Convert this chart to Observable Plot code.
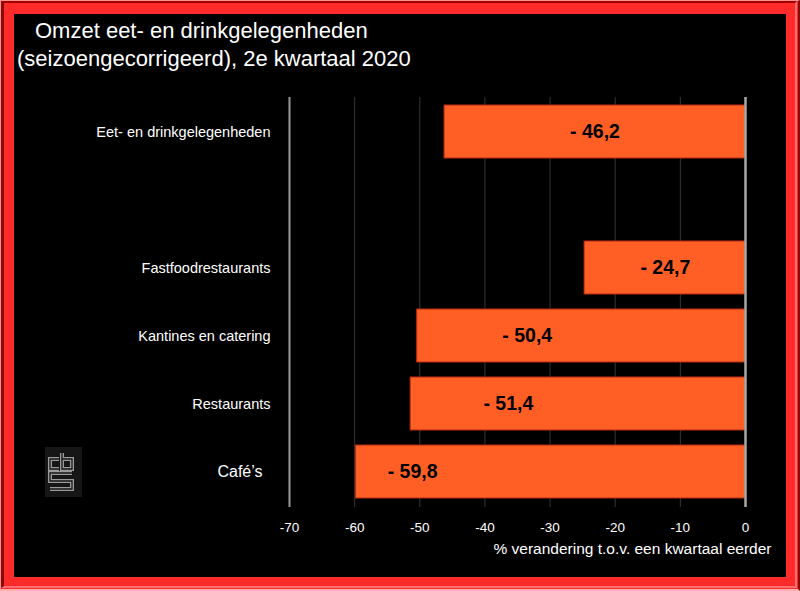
<!DOCTYPE html>
<html>
<head>
<meta charset="utf-8">
<script src="https://cdn.jsdelivr.net/npm/d3@7"></script>
<script src="https://cdn.jsdelivr.net/npm/@observablehq/plot@0.6"></script>
<style>
  html, body { margin: 0; padding: 0; background: #000; }
  #page { position: relative; width: 800px; height: 591px; overflow: hidden;
          background: #FF2B2B; font-family: "Liberation Sans", Arial, sans-serif; }
  #frameOuter { position: absolute; left: 0; top: 0; width: 800px; height: 591px; box-sizing: border-box;
          border-top: 1px solid #FF9090; border-left: 1px solid #FF9090;
          border-bottom: 2px solid #FFB0B0; border-right: 2px solid #8A0A0A; }
  #frameInner { position: absolute; left: 1px; top: 1px; width: 796px; height: 587px; box-sizing: border-box;
          border-top: 2px solid #A00000; border-left: 3px solid #8A0A0A;
          border-bottom: 2px solid #FF7070; border-right: 2px solid #FF7070; }
  #inner { position: absolute; left: 14px; top: 14px; width: 772px; height: 563px; background: #000; }
  .tline { position: absolute; color: #fff; font-size: 22px; line-height: 28px; white-space: nowrap; }
  #t1 { left: 35px; top: 17px; }
  #t2 { left: 17px; top: 45px; }
  #chart { position: absolute; left: 0; top: 0; }
  #logo { position: absolute; left: 0; top: 0; }
</style>
</head>
<body>
<div id="page">
  <div id="frameOuter"></div>
  <div id="frameInner"></div>
  <div id="inner"></div>
  <svg id="logo" width="800" height="591">
    <rect x="45" y="447" width="37" height="50" fill="#161616"></rect>
    <g fill="none" stroke-linejoin="miter">
      <path d="M59,459 H50 V469 H59 M62,453 V469 H72 V459 H62 M72,473 H50 V481 H72 V489 H50" stroke="#9a9a9a" stroke-width="4"></path>
      <path d="M59,459 H50 V469 H59 M62,453 V469 H72 V459 H62 M72,473 H50 V481 H72 V489 H50" stroke="#161616" stroke-width="1.3"></path>
    </g>
  </svg>
  <div class="tline" id="t1">Omzet eet- en drinkgelegenheden</div>
  <div class="tline" id="t2">(seizoengecorrigeerd), 2e kwartaal 2020</div>
  <div id="chart"></div>
</div>
<script>
// Data
const categories = ["Eet- en drinkgelegenheden", "Fastfoodrestaurants", "Kantines en catering", "Restaurants", "Café’s"];
const values = [-46.2, -24.7, -50.4, -51.4, -59.8];
const labelAt = [-23.1, -12.3, -33.5, -36.4, -51.1];
const xTicks = [-70, -60, -50, -40, -30, -20, -10, 0];
const spacer = " ";
const yDomain = [categories[0], spacer, ...categories.slice(1)];
const axisTitle = "% verandering t.o.v. een kwartaal eerder";

const data = categories.map((c, i) => ({cat: c, value: values[i], at: labelAt[i]}));
const fmt = v => "- " + Math.abs(v).toFixed(1).replace(".", ",");
const xMin = xTicks[0];
const lastCat = categories[categories.length - 1];

const chart = Plot.plot({
  width: 800,
  height: 591,
  marginLeft: 289,
  marginRight: 55,
  marginTop: 97,
  marginBottom: 84,
  style: {background: "transparent", color: "#fff", fontFamily: "Liberation Sans, Arial, sans-serif", overflow: "visible"},
  x: {domain: [xMin, 0]},
  y: {domain: yDomain, paddingInner: 0.22, paddingOuter: 0.11, axis: null},
  marks: [
    Plot.gridX(xTicks, {stroke: "#363636", strokeOpacity: 1}),
    Plot.barX(data, {x: "value", y: "cat", fill: "#FF5F24", stroke: "#B82A10", strokeWidth: 1}),
    Plot.ruleX([xMin], {stroke: "#9a9a9a", strokeWidth: 2}),
    Plot.ruleX([0], {stroke: "#a8a8a8", strokeWidth: 2.5}),
    Plot.text(data, {x: "at", y: "cat", text: d => fmt(d.value), fill: "#000", fontWeight: "bold", fontSize: 19.5}),
    Plot.text(data.filter(d => d.cat !== lastCat), {x: () => xMin, y: "cat", text: "cat", textAnchor: "end", dx: -19, fontSize: 14.5, fill: "#fff"}),
    Plot.text(data.filter(d => d.cat === lastCat), {x: () => xMin, y: "cat", text: "cat", textAnchor: "end", dx: -27, fontSize: 16, fill: "#fff"}),
    Plot.axisX(xTicks, {anchor: "bottom", tickSize: 0, tickPadding: 15, tickFormat: d => String(d), fontSize: 13.5, label: null, fill: "#fff"}),
    Plot.text([axisTitle], {frameAnchor: "bottom-right", textAnchor: "end", dx: 26, dy: 46, fontSize: 15.5, fill: "#fff"})
  ]
});
document.getElementById("chart").appendChild(chart);
</script>
</body>
</html>
